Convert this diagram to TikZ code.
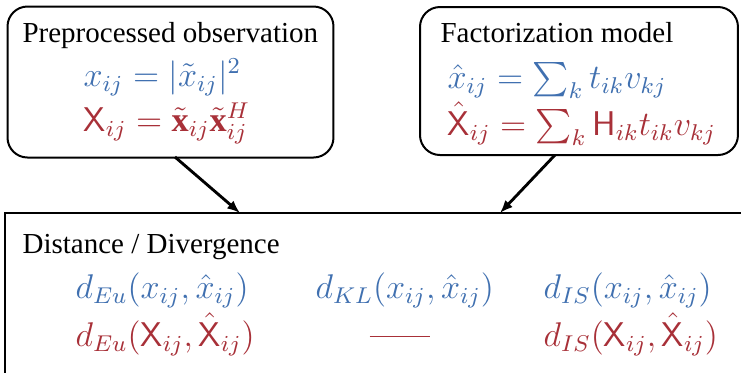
\documentclass[tikz,border=0pt]{standalone}
\usepackage{fontspec}
\setmainfont{Liberation Serif}
\usepackage{amsmath}
\usetikzlibrary{arrows.meta}
\definecolor{mblue}{RGB}{64,112,176}
\definecolor{mred}{RGB}{168,48,56}
\tikzset{
  box/.style={draw, line width=0.7pt, rounded corners=7pt, inner sep=0pt},
  sqbox/.style={draw, line width=0.7pt, inner sep=0pt},
  title/.style={anchor=base west, inner sep=0pt, font=\fontsize{10.15}{12}\selectfont},
  beq/.style={anchor=base west, inner sep=0pt, text=mblue, font=\fontsize{12}{14}\selectfont},
  req/.style={anchor=base west, inner sep=0pt, text=mred, font=\fontsize{12}{14}\selectfont},
  arr/.style={line width=1pt, -{Latex[length=4.5pt,width=3.6pt]}}
}
\begin{document}
\begin{tikzpicture}[x=0.35pt,y=-0.35pt]
\useasboundingbox (0,0) rectangle (741,372);
\begin{scope}
\clip (0,0) rectangle (741,372);
% boxes
\node[box, minimum width=114.1pt, minimum height=52.85pt] (lbox) at (170.5,82) {};
\node[box, minimum width=111.3pt, minimum height=51.8pt] (rbox) at (579,81) {};
\node[sqbox, minimum width=264.25pt, minimum height=65.45pt] (bbox) at (382.5,306.5) {};
% left box texts
\node[title] (lt) at (22,42) {Preprocessed observation};
\node[beq] (l1) at (83,86) {$x_{ij} = |\tilde{x}_{ij}|^2$};
\node[req] (l2) at (83,131) {$\mathsf{X}_{ij} = \tilde{\mathbf{x}}_{ij}\tilde{\mathbf{x}}_{ij}^{H}$};
% right box texts
\node[title] (rt) at (440,42) {Factorization model};
\node[beq] (r1) at (447,88) {$\hat{x}_{ij} = \sum_k t_{ik} v_{kj}$};
\node[req] (r2) at (447,135) {$\hat{\mathsf{X}}_{ij} = \sum_k \mathsf{H}_{ik} t_{ik} v_{kj}$};
% bottom box texts
\node[title] (bt) at (22,253) {Distance / Divergence};
\node[beq] (d1) at (75,298) {$d_{Eu}(x_{ij},\hat{x}_{ij})$};
\node[beq] (d2) at (315,298) {$d_{KL}(x_{ij},\hat{x}_{ij})$};
\node[beq] (d3) at (543,298) {$d_{IS}(x_{ij},\hat{x}_{ij})$};
\node[req] (e1) at (75,346) {$d_{Eu}(\mathsf{X}_{ij},\hat{\mathsf{X}}_{ij})$};
\node[req] (e2) at (369,346) {\rule[3pt]{21pt}{0.5pt}};
\node[req] (e3) at (543,346) {$d_{IS}(\mathsf{X}_{ij},\hat{\mathsf{X}}_{ij})$};
% arrows
\coordinate (s1) at (175,157);
\coordinate (t1) at (240,213);
\coordinate (s2) at (555,155);
\coordinate (t2) at (500,213);
\draw[arr] (s1) -- (t1);
\draw[arr] (s2) -- (t2);
\end{scope}
\end{tikzpicture}
\end{document}
